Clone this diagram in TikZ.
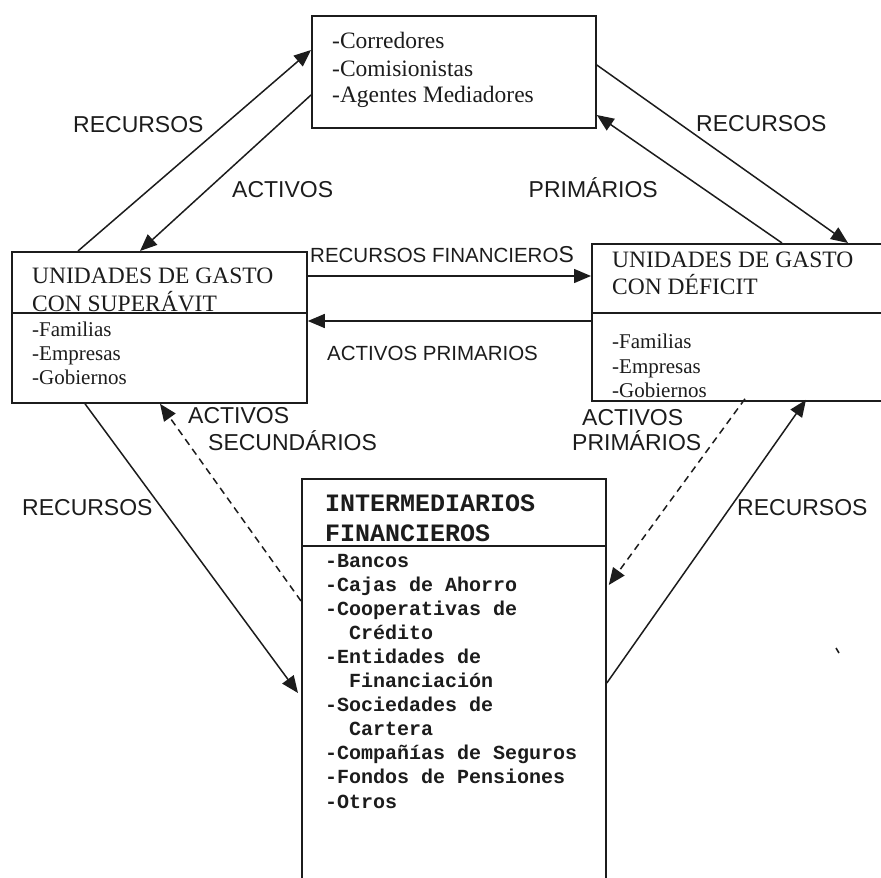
\documentclass[tikz,border=0pt]{standalone}
\usepackage{fontspec}
\setmainfont{Liberation Serif}
\newfontfamily\labelfont{Liberation Sans}
\newfontfamily\codefont{Liberation Mono}
\usetikzlibrary{arrows.meta}
\definecolor{ink}{HTML}{1C1C1C}
\begin{document}
\begin{tikzpicture}[x=1pt,y=-1pt,
  box/.style={draw=ink, line width=1.8pt, rectangle, inner sep=0pt, anchor=north west},
  rule/.style={draw=ink, line width=1.8pt},
  flow/.style={draw=ink, line width=1.5pt, -{Triangle[length=17pt,width=14pt]}},
  back/.style={flow, dash pattern=on 7pt off 5pt},
  txt/.style={anchor=base west, inner sep=0pt, text=ink},
  serifbig/.style={txt, font=\fontsize{23.5}{28}\selectfont},
  serifsmall/.style={txt, font=\fontsize{21}{24}\selectfont},
  codehead/.style={txt, font=\codefont\bfseries\fontsize{25}{30}\selectfont},
  codeitem/.style={txt, font=\codefont\bfseries\fontsize{20}{24}\selectfont},
  lbl/.style={txt, font=\labelfont\fontsize{23}{27}\selectfont},
  lblsmall/.style={txt, font=\labelfont\fontsize{20.5}{24}\selectfont}]

\useasboundingbox (0,0) rectangle (881,878);
\clip (0,0) rectangle (881,878);

% ---- boxes ----
\node[box, minimum width=284pt, minimum height=112pt] (top) at (311,15) {};
\node[box, minimum width=295pt, minimum height=151pt] (sup) at (11,251) {};
\node[box, minimum width=310pt, minimum height=157pt] (def) at (591,243) {};
\node[box, minimum width=304pt, minimum height=430pt] (int) at (301,478) {};

% dividers between title and list
\draw[rule] ([yshift=-62pt]sup.north west) -- ([yshift=-62pt]sup.north east);
\draw[rule] ([yshift=-70pt]def.north west) -- ([yshift=-70pt]def.north east);
\draw[rule] ([yshift=-68pt]int.north west) -- ([yshift=-68pt]int.north east);

% ---- box contents ----
\foreach \t/\b [count=\i] in {-Corredores/48, -Comisionistas/76, -Agentes Mediadores/102}
  \node[serifbig] (tt\i) at (332,\b) {\t};

\node[serifbig] (sh1) at (32,283) {UNIDADES DE GASTO};
\node[serifbig] (sh2) at (32,311) {CON SUPERÁVIT};
\foreach \t/\b [count=\i] in {-Familias/336, -Empresas/360, -Gobiernos/384}
  \node[serifsmall] (sl\i) at (32,\b) {\t};

\node[serifbig] (dh1) at (612,267) {UNIDADES DE GASTO};
\node[serifbig] (dh2) at (612,294) {CON DÉFICIT};
\foreach \t/\b [count=\i] in {-Familias/348, -Empresas/373, -Gobiernos/397}
  \node[serifsmall] (dl\i) at (612,\b) {\t};

\node[codehead] (ih1) at (325,511) {INTERMEDIARIOS};
\node[codehead] (ih2) at (325,541) {FINANCIEROS};
\foreach \t [count=\i] in {-Bancos, -Cajas de Ahorro, -Cooperativas de,
    \hspace*{1.2em}Crédito, -Entidades de, \hspace*{1.2em}Financiación,
    -Sociedades de, \hspace*{1.2em}Cartera, -Compañías de Seguros,
    -Fondos de Pensiones, -Otros}
  \node[codeitem] (il\i) at (325,{567+24.1*(\i-1)}) {\t};

% ---- flows ----
\draw[flow] ([xshift=67pt]sup.north west) -- ([yshift=-35pt]top.north west);
\draw[flow] ([yshift=-80pt]top.north west) -- ([xshift=129pt]sup.north west);
\draw[flow] ([yshift=-50pt]top.north east) -- ([xshift=257pt]def.north west);
\draw[flow] ([xshift=191pt]def.north west) -- ([yshift=-100pt]top.north east);
\draw[flow] ([yshift=-25pt]sup.north east) -- ([yshift=-33pt]def.north west);
\draw[flow] ([yshift=-78pt]def.north west) -- ([yshift=-70pt]sup.north east);
\draw[flow] ([xshift=74pt]sup.south west) -- ([xshift=-3pt,yshift=-215pt]int.north west);
\draw[back] ([yshift=-123pt]int.north west) -- ([xshift=149pt]sup.south west);
\draw[back] ([xshift=154pt,yshift=3pt]def.south west) -- ([xshift=2pt,yshift=-107pt]int.north east);
\draw[flow] ([yshift=-205pt]int.north east) -- ([xshift=215pt,yshift=2pt]def.south west);

% ---- flow labels ----
\node[lbl] (l1) at (73,132) {RECURSOS};
\node[lbl] (l2) at (232,197) {ACTIVOS};
\node[lbl] (l3) at (696,131) {RECURSOS};
\node[lbl, anchor=base east] (l4) at (658,197) {PRIMÁRIOS};
\node[lblsmall] (l5) at (310,262) {RECURSOS FINANCIERO{\fontsize{23}{27}\selectfont S}};
\node[lblsmall] (l6) at (327,360) {ACTIVOS PRIMARIOS};
\node[lbl] (l7) at (188,423) {ACTIVOS};
\node[lbl] (l8) at (208,450) {SECUNDÁRIOS};
\node[lbl] (l9) at (582,425) {ACTIVOS};
\node[lbl] (l10) at (572,450) {PRIMÁRIOS};
\node[lbl] (l11) at (22,515) {RECURSOS};
\node[lbl] (l12) at (737,515) {RECURSOS};

% small stray stroke
\coordinate (m1) at (836,648);
\coordinate (m2) at (839,653);
\draw[ink, line width=1.6pt] (m1) -- (m2);
\end{tikzpicture}
\end{document}
